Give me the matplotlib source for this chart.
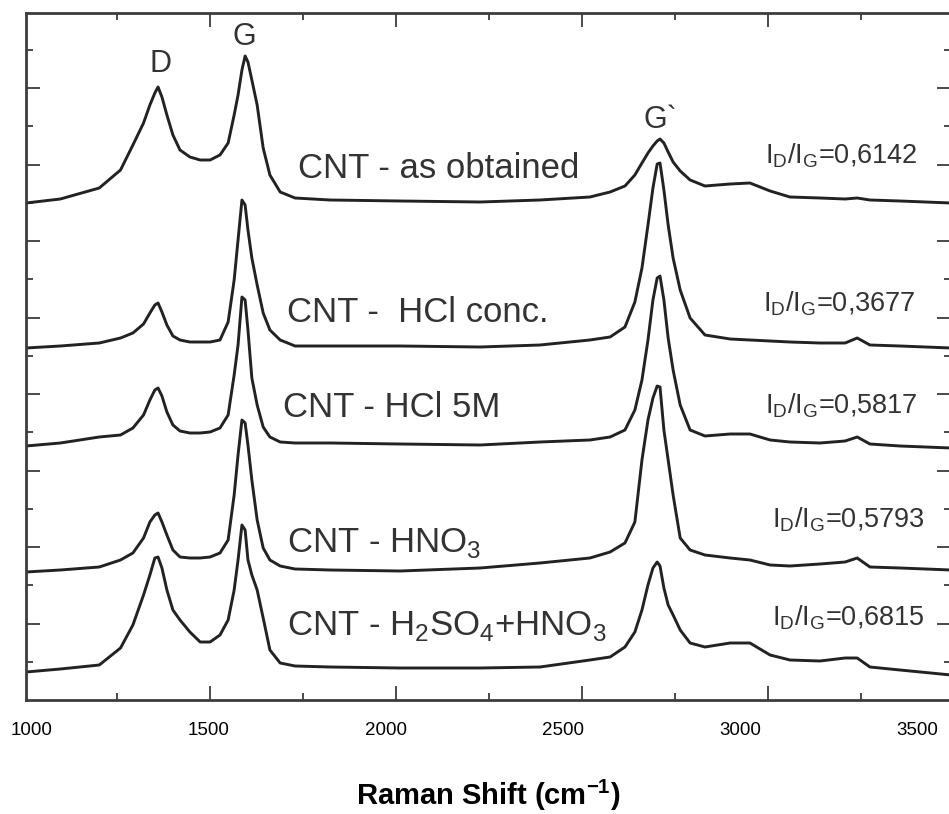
import numpy as np
import matplotlib
matplotlib.use("Agg")
import matplotlib.pyplot as plt

plt.rcParams['font.family'] = ['Liberation Sans', 'DejaVu Sans']
plt.rcParams['mathtext.fontset'] = 'custom'
plt.rcParams['mathtext.rm'] = 'Liberation Sans'
plt.rcParams['mathtext.bf'] = 'Liberation Sans:bold'

# Raman shift sampling points (cm-1)
raman_shift = [983, 1080, 1190, 1250, 1285, 1315, 1333, 1347, 1356, 1367,
               1381, 1398, 1418, 1446, 1475, 1503, 1531, 1554, 1571, 1582,
               1593, 1602, 1610, 1621, 1636, 1653, 1672, 1701, 1743, 1842,
               2040, 2266, 2435, 2576, 2633, 2675, 2703, 2723, 2740, 2754,
               2766, 2774, 2785, 2797, 2811, 2831, 2859, 2901, 2972, 3028,
               3085, 3141, 3226, 3297, 3331, 3367, 3452, 3596]

# Stacked intensities (a.u., offsets included)
as_obtained = [497, 501, 512, 530, 555, 577, 595, 607, 613, 603,
               585, 565, 550, 543, 540, 540, 545, 557, 585, 605,
               630, 644, 638, 620, 595, 552, 525, 508, 502, 500,
               499, 498, 500, 503, 508, 514, 525, 537, 547, 554,
               559, 561, 557, 548, 538, 529, 520, 514, 516, 517,
               509, 503, 502, 501, 502, 500, 499, 497]

hcl_conc = [352, 354, 357, 362, 367, 376, 387, 395, 397, 388,
            375, 364, 360, 358, 358, 358, 360, 378, 420, 460,
            500, 495, 470, 442, 415, 387, 370, 360, 354, 354,
            354, 353, 355, 360, 363, 373, 398, 432, 475, 512,
            536, 537, 510, 475, 442, 410, 382, 365, 361, 360,
            359, 358, 357, 357, 362, 355, 354, 352]

hcl_5m = [254, 257, 263, 265, 272, 285, 300, 310, 312, 304,
          288, 275, 269, 267, 267, 268, 272, 285, 325, 355,
          403, 400, 370, 322, 295, 273, 263, 258, 257, 257,
          256, 255, 258, 260, 263, 270, 290, 320, 360, 400,
          422, 424, 400, 362, 330, 295, 270, 264, 266, 266,
          260, 258, 257, 259, 263, 256, 254, 252]

hno3 = [128, 130, 133, 140, 147, 162, 178, 185, 187, 178,
        165, 150, 143, 142, 142, 143, 147, 160, 205, 245,
        280, 277, 255, 220, 180, 152, 140, 134, 131, 130,
        129, 132, 137, 142, 148, 157, 178, 240, 280, 302,
        314, 313, 270, 240, 205, 162, 150, 145, 142, 140,
        135, 134, 136, 138, 142, 133, 132, 130]

h2so4_hno3 = [28, 31, 35, 52, 75, 105, 125, 142, 143, 132,
              110, 90, 80, 68, 58, 58, 65, 80, 110, 140,
              175, 170, 140, 125, 110, 82, 50, 37, 34, 33,
              32, 32, 33, 40, 43, 53, 68, 90, 115, 132,
              138, 134, 112, 95, 85, 70, 57, 53, 57, 57,
              45, 40, 39, 42, 42, 33, 30, 25]

spectra = [as_obtained, hcl_conc, hcl_5m, hno3, h2so4_hno3]

sample_labels = ['CNT - as obtained', 'CNT -  HCl conc.', 'CNT - HCl 5M',
                 r'CNT - HNO$_\mathregular{3}$',
                 r'CNT - H$_\mathregular{2}$SO$_\mathregular{4}$+HNO$_\mathregular{3}$']
label_x = [1751, 1720, 1709, 1720, 1720]
label_y = [522, 378, 283, 148, 65]

ratios = ['0,6142', '0,3677', '0,5817', '0,5793', '0,6815']
ratio_x = [3071, 3065, 3071, 3090, 3090]
ratio_y = [537, 388, 287, 173, 75]

axis_labels = [1000, 1500, 2000, 2500, 3000, 3500]

ink = '#222222'
frame = '#3c3c3c'

fig = plt.figure(figsize=(9.49, 8.14), dpi=100)
ax = fig.add_axes([26 / 949, 1 - 700 / 814, (951 - 26) / 949, (700 - 13) / 814])

for spec in spectra:
    ax.plot(raman_shift, spec, color=ink, lw=2.1, solid_joinstyle='round')

ax.set_xlim(983, 3596)
ax.set_ylim(0, 687)

# frame ticks of the instrument plot
ax.set_xticks(np.arange(1503, 3400, 525.2))
ax.set_xticks(np.arange(1240, 3400, 525.2), minor=True)
ax.set_yticks(np.arange(76.5, 687, 76.5))
ax.set_yticks(np.arange(38.25, 687, 76.5), minor=True)
ax.tick_params(which='both', direction='in', top=True, right=True,
               labelbottom=False, labelleft=False, color=frame, width=1.3)
ax.tick_params(which='major', length=10)
ax.tick_params(which='minor', length=5)
for s in ax.spines.values():
    s.set_color(frame)
    s.set_linewidth(2.0)

# peak names
ax.text(1363, 628, 'D', fontsize=22, color='#333333', ha='center', va='baseline')
ax.text(1599, 655, 'G', fontsize=22, color='#333333', ha='center', va='baseline')
ax.text(2726, 572, 'G`', fontsize=22, color='#333333', ha='left', va='baseline')

for txt, x, y in zip(sample_labels, label_x, label_y):
    ax.text(x, y, txt, fontsize=25, color='#333333', ha='left', va='baseline')

for r, x, y in zip(ratios, ratio_x, ratio_y):
    ax.text(x, y, r'I$_\mathregular{D}$/I$_\mathregular{G}$=' + r, fontsize=19.5,
            color='#333333', ha='left', va='baseline')

# printed wavenumber scale
sec = ax.secondary_xaxis('bottom')
sec.set_xticks(axis_labels)
sec.tick_params(axis='x', length=0, pad=16, labelsize=13.5, labelcolor='black')
sec.spines['bottom'].set_visible(False)
sec.set_xlabel(r'Raman Shift (cm$^{\mathbf{-1}}$)', fontsize=21,
               fontweight='bold', labelpad=28)

fig.savefig('out.png', dpi=100)
